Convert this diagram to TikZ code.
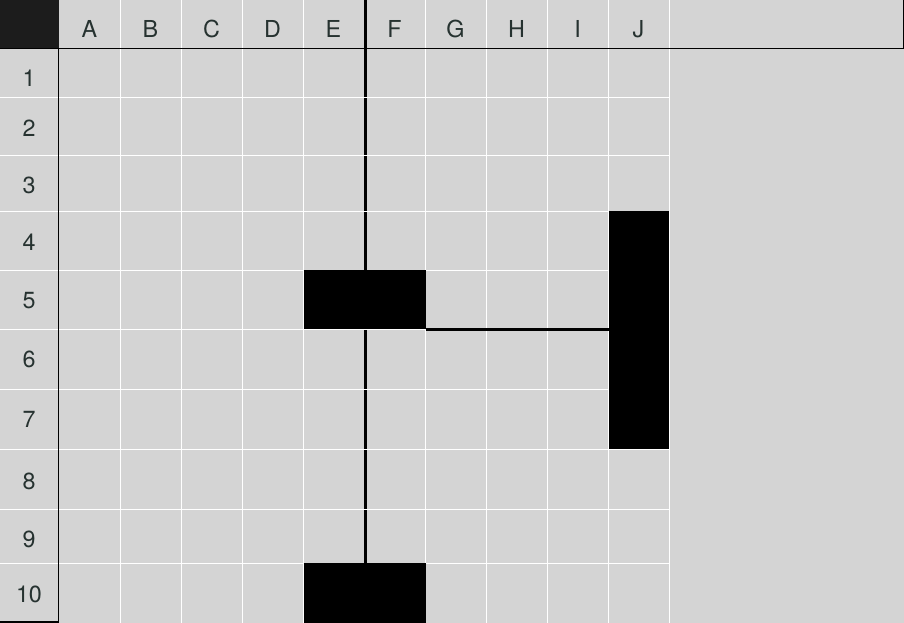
\documentclass[tikz,border=0pt]{standalone}
\usepackage{fontspec}
\setmainfont{TeX Gyre Heros}
\definecolor{cellgray}{RGB}{212,212,212}
\definecolor{cornerdark}{RGB}{28,28,28}
\definecolor{labeltext}{RGB}{38,50,48}
\tikzstyle{colhead} = [anchor=base,inner sep=0pt,text=labeltext,font=\fontsize{17.5}{20}\selectfont]
\tikzstyle{rowhead} = [colhead]
\tikzstyle{gridline} = [white,line width=0.8pt]
\tikzstyle{wall} = [black,line width=2.25pt]
\tikzstyle{block} = [fill=black]
\tikzstyle{border} = [black,line width=1pt]

\begin{document}
\begin{tikzpicture}[x=0.75pt,y=-0.75pt]
	\useasboundingbox (0,0) rectangle (904,623);
	\fill[cellgray] (0,0) rectangle (904,623);
	\fill[cornerdark] (0,0) rectangle (58.5,48.5);
	% white grid, columns first
	\foreach \x in {120.5,181.5,242.5,303.5,425.5,486.5,547.5,608.5,669.5}
		\draw[gridline] (\x,0) -- (\x,623);
	\draw[wall] (365.5,0) -- (365.5,270.5);
	\draw[wall] (365.5,329.5) -- (365.5,563.5);
	\foreach \y in {97.5,155.5,211.5,270.5,329.5,389.5,449.5,509.5,563.5}
		\draw[gridline] (0,\y) -- (669.5,\y);
	\draw[wall] (425.5,329.5) -- (608.5,329.5);
	% filled cells
	\fill[block] (303.5,270.5) rectangle (425.5,329.5);
	\fill[block] (608.5,211.5) rectangle (669,449.5);
	\fill[block] (303.5,563.5) rectangle (425.5,623);
	% sheet borders
	\draw[border] (0,48.5) -- (904,48.5);
	\draw[border] (903.3,0) -- (903.3,48.5);
	\draw[border] (58.5,48.5) -- (58.5,622);
	\draw[border] (0,622) -- (58.5,622);
	\node[colhead] (colA) at (89.5,37.3) {A};
	\node[colhead] (colB) at (150.5,37.3) {B};
	\node[colhead] (colC) at (211.5,37.3) {C};
	\node[colhead] (colD) at (272.5,37.3) {D};
	\node[colhead] (colE) at (333.5,37.3) {E};
	\node[colhead] (colF) at (394.5,37.3) {F};
	\node[colhead] (colG) at (455.5,37.3) {G};
	\node[colhead] (colH) at (516.5,37.3) {H};
	\node[colhead] (colI) at (577.5,37.3) {I};
	\node[colhead] (colJ) at (638.5,37.3) {J};
	\node[rowhead] (row1) at (29,86.7) {1};
	\node[rowhead] (row2) at (29,136.7) {2};
	\node[rowhead] (row3) at (29,193.3) {3};
	\node[rowhead] (row4) at (29,250.7) {4};
	\node[rowhead] (row5) at (29,308.3) {5};
	\node[rowhead] (row6) at (29,367.7) {6};
	\node[rowhead] (row7) at (29,427.3) {7};
	\node[rowhead] (row8) at (29,490) {8};
	\node[rowhead] (row9) at (29,547.3) {9};
	\node[rowhead] (row10) at (29,602.7) {10};
\end{tikzpicture}
\end{document}
